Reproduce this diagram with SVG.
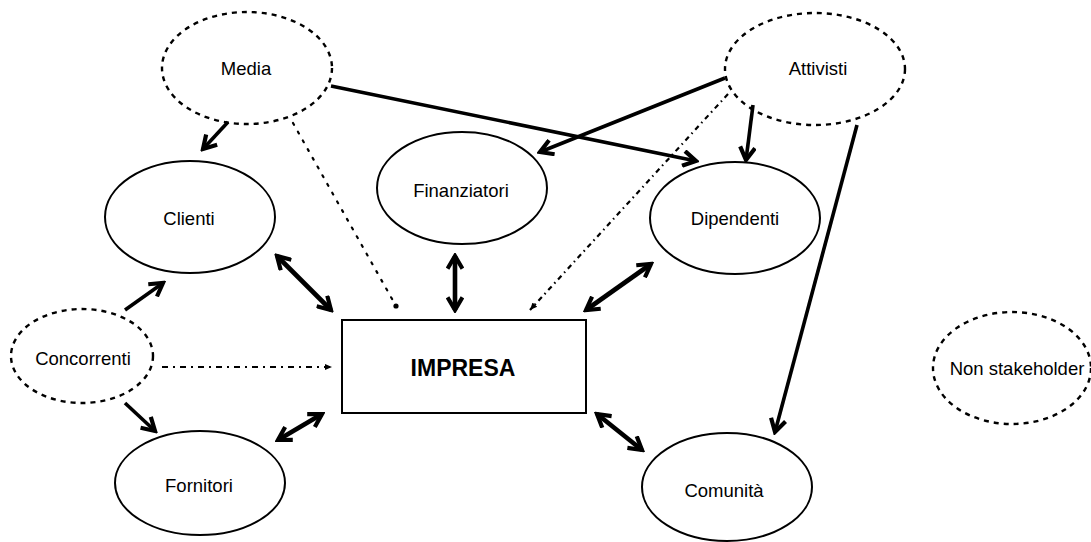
<svg xmlns="http://www.w3.org/2000/svg" width="1091" height="542" viewBox="0 0 1091 542">
  <style>
    .bg { fill: #ffffff; }
    .node { fill: none; stroke: #000; stroke-width: 2; }
    .ext { fill: none; stroke: #000; stroke-width: 2.4; stroke-dasharray: 5 5; }
    .lbl { font-family: "Liberation Sans", Arial, sans-serif; font-size: 18.5px; fill: #000; text-anchor: middle; }
    .core { font-family: "Liberation Sans", Arial, sans-serif; font-size: 23px; font-weight: bold; fill: #000; text-anchor: middle; }
    .strong { fill: none; stroke: #000; stroke-width: 4.6; }
    .influence { fill: none; stroke: #000; stroke-width: 3.6; }
    .weak { fill: none; stroke: #000; stroke-width: 2.2; }
  </style>
  <defs>
    <marker id="head" viewBox="0 0 12 12" refX="10" refY="6" markerWidth="18" markerHeight="18" markerUnits="userSpaceOnUse" orient="auto-start-reverse">
      <path d="M1.5,1 L10,6 L1.5,11" fill="none" stroke="#000" stroke-width="2.8" stroke-linejoin="miter"/>
    </marker>
    <marker id="tip" viewBox="0 0 10 10" refX="9" refY="5" markerWidth="8" markerHeight="8" markerUnits="userSpaceOnUse" orient="auto">
      <path d="M0,1 L9,5 L0,9 Z" fill="#000"/>
    </marker>
  </defs>

  <rect class="bg" x="0" y="0" width="1091" height="542"/>

  <!-- connectors -->
  <g id="connectors">
    <!-- direct influence -->
    <line class="influence" x1="228" y1="122" x2="203" y2="149" marker-end="url(#head)"/>
    <line class="influence" x1="331" y1="86" x2="696" y2="161" marker-end="url(#head)"/>
    <line class="influence" x1="725" y1="78" x2="540" y2="152" marker-end="url(#head)"/>
    <line class="influence" x1="753" y1="105" x2="746" y2="160" marker-end="url(#head)"/>
    <line class="influence" x1="857" y1="125" x2="775" y2="432" marker-end="url(#head)"/>
    <line class="influence" x1="125" y1="310" x2="163" y2="283" marker-end="url(#head)"/>
    <line class="influence" x1="125" y1="403" x2="155" y2="431" marker-end="url(#head)"/>
    <!-- two-way exchange with the firm -->
    <line class="strong" x1="277" y1="256" x2="331" y2="310" marker-start="url(#head)" marker-end="url(#head)"/>
    <line class="strong" x1="455" y1="256" x2="455" y2="310" marker-start="url(#head)" marker-end="url(#head)"/>
    <line class="strong" x1="651" y1="264" x2="586" y2="310" marker-start="url(#head)" marker-end="url(#head)"/>
    <line class="strong" x1="597" y1="414" x2="642" y2="450" marker-start="url(#head)" marker-end="url(#head)"/>
    <line class="strong" x1="278" y1="440" x2="322" y2="414" marker-start="url(#head)" marker-end="url(#head)"/>
    <!-- indirect pressure -->
    <line class="weak" x1="293" y1="123" x2="396" y2="306" stroke-dasharray="2 8" stroke-linecap="round"/>
    <circle cx="396" cy="306" r="2.6" fill="#000"/>
    <line class="weak" x1="728" y1="94" x2="530" y2="310" stroke-dasharray="5 4 1.5 4" marker-end="url(#tip)"/>
    <line class="weak" x1="162" y1="367" x2="332" y2="367" stroke-dasharray="6 5 2 5" marker-end="url(#tip)"/>
  </g>

  <!-- stakeholders -->
  <g id="media">
    <ellipse class="ext" cx="247" cy="68" rx="85" ry="56"/>
    <text class="lbl" x="246" y="75">Media</text>
  </g>
  <g id="attivisti">
    <ellipse class="ext" cx="815" cy="69" rx="90" ry="56"/>
    <text class="lbl" x="818" y="75">Attivisti</text>
  </g>
  <g id="clienti">
    <ellipse class="node" cx="190" cy="217" rx="85" ry="56"/>
    <text class="lbl" x="189" y="225">Clienti</text>
  </g>
  <g id="finanziatori">
    <ellipse class="node" cx="462" cy="188" rx="85" ry="56"/>
    <text class="lbl" x="461" y="197">Finanziatori</text>
  </g>
  <g id="dipendenti">
    <ellipse class="node" cx="735" cy="218" rx="85" ry="56"/>
    <text class="lbl" x="735" y="225">Dipendenti</text>
  </g>
  <g id="concorrenti">
    <ellipse class="ext" cx="82" cy="356" rx="71" ry="47"/>
    <text class="lbl" x="83" y="365">Concorrenti</text>
  </g>
  <g id="impresa">
    <rect x="342" y="320" width="244" height="93" fill="#fff" stroke="#000" stroke-width="2"/>
    <text class="core" x="463" y="376">IMPRESA</text>
  </g>
  <g id="fornitori">
    <ellipse class="node" cx="200" cy="483" rx="85" ry="52"/>
    <text class="lbl" x="199" y="492">Fornitori</text>
  </g>
  <g id="comunita">
    <ellipse class="node" cx="727" cy="487" rx="85" ry="54"/>
    <text class="lbl" x="724" y="497">Comunità</text>
  </g>
  <g id="non-stakeholder">
    <ellipse class="ext" cx="1012" cy="368" rx="79" ry="56"/>
    <text class="lbl" x="1017" y="375">Non stakeholder</text>
  </g>
</svg>
